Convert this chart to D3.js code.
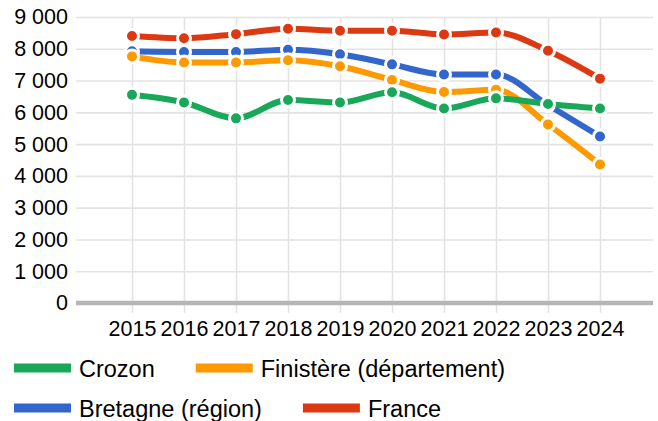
<!DOCTYPE html>
<html>
<head>
<meta charset="utf-8">
<script src="https://cdn.jsdelivr.net/npm/d3@7"></script>
<style>
  html, body { margin: 0; padding: 0; background: #fff; }
  svg { display: block; font-family: "Liberation Sans", Arial, Helvetica, sans-serif; }
</style>
</head>
<body>
<div id="chart"></div>
<script>
// data
const years = [2015, 2016, 2017, 2018, 2019, 2020, 2021, 2022, 2023, 2024]
const crozon = [6550, 6310, 5810, 6390, 6310, 6630, 6120, 6440, 6260, 6120]
const finistere = [7760, 7570, 7570, 7640, 7450, 7020, 6640, 6710, 5620, 4360]
const bretagne = [7920, 7900, 7900, 7970, 7830, 7510, 7190, 7190, 6230, 5240]
const france = [8400, 8330, 8460, 8630, 8570, 8570, 8450, 8510, 7940, 7060]
const seriesNames = ["Crozon", "Finistère (département)", "Bretagne (région)", "France"]
const colors = ["#19a85a", "#ff9900", "#3366cc", "#dc3912"]
const yTicks = [0, 1000, 2000, 3000, 4000, 5000, 6000, 7000, 8000, 9000]

const WIDTH = 658
const HEIGHT = 421
const LEFT = 76, RIGHT = 653, TOP = 17, BOTTOM = 303

const series = [crozon, finistere, bretagne, france].map((values, i) => ({
  name: seriesNames[i],
  color: colors[i],
  points: values.map((v, j) => ({ year: years[j], value: v }))
}))

const fr = d3.formatLocale({ decimal: ",", thousands: " ", grouping: [3], currency: ["", " €"] })
const fmt = fr.format(",d")

const svg = d3.select("#chart")
  .append("svg")
  .attr("width", WIDTH)
  .attr("height", HEIGHT)

const x = d3.scaleLinear()
  .domain([2015, 2024])
  .range([132, 600])

const y = d3.scaleLinear()
  .domain([0, 9000])
  .range([BOTTOM, TOP])

// horizontal grid + labels
const yAxis = svg.append("g")
  .attr("transform", `translate(${LEFT},0)`)
  .call(d3.axisLeft(y).tickValues(yTicks).tickFormat(fmt).tickSize(-(RIGHT - LEFT)).tickPadding(8))
yAxis.select(".domain").remove()
yAxis.selectAll(".tick line").attr("stroke", "#e3e3e3").attr("stroke-width", 1.6)
yAxis.selectAll(".tick text")
  .attr("fill", "#000")
  .attr("font-size", 21.5)
  .attr("font-family", "\"Liberation Sans\", Arial, sans-serif")

// vertical grid + year labels
const xAxis = svg.append("g")
  .attr("transform", `translate(0,${BOTTOM + 10})`)
  .call(d3.axisBottom(x).tickValues(years).tickFormat(d3.format("d")).tickSize(-(BOTTOM + 10 - TOP)).tickPadding(8))
xAxis.select(".domain").remove()
xAxis.selectAll(".tick line").attr("stroke", "#e3e3e3").attr("stroke-width", 1.6)
xAxis.selectAll(".tick text")
  .attr("fill", "#000")
  .attr("font-size", 21.5)
  .attr("font-family", "\"Liberation Sans\", Arial, sans-serif")

// baseline
svg.append("line")
  .attr("x1", LEFT).attr("x2", RIGHT)
  .attr("y1", y(0)).attr("y2", y(0))
  .attr("stroke", "#b5b5b5")
  .attr("stroke-width", 4.5)

const line = d3.line()
  .x(d => x(d.year))
  .y(d => y(d.value))
  .curve(d3.curveMonotoneX)

// first series ends up on top, so draw backwards
const groups = svg.selectAll(".series")
  .data(series.slice().reverse())
  .enter()
  .append("g")
  .attr("class", "series")

groups.append("path")
  .attr("d", d => line(d.points))
  .attr("fill", "none")
  .attr("stroke", d => d.color)
  .attr("stroke-width", 6)

groups.selectAll("circle")
  .data(d => d.points.map(p => ({ ...p, color: d.color })))
  .enter()
  .append("circle")
  .attr("cx", d => x(d.year))
  .attr("cy", d => y(d.value))
  .attr("r", 6.5)
  .attr("fill", d => d.color)
  .attr("stroke", "#fff")
  .attr("stroke-width", 3)

// legend, two rows that wrap
const legendRows = [[0, 1], [2, 3]]
const legend = svg.append("g").attr("class", "legend")
legendRows.forEach((row, r) => {
  let cx = 14
  const cy = 368 + r * 40
  row.forEach(i => {
    const item = legend.append("g").attr("transform", `translate(${cx},${cy})`)
    item.append("rect")
      .attr("x", 0).attr("y", -4.5)
      .attr("width", 57).attr("height", 9)
      .attr("fill", colors[i])
    const t = item.append("text")
      .attr("x", 65)
      .attr("y", 8.5)
      .attr("font-size", 23.5)
      .attr("fill", "#000")
      .text(seriesNames[i])
    cx += 65 + t.node().getComputedTextLength() + 41
  })
})
</script>
</body>
</html>
